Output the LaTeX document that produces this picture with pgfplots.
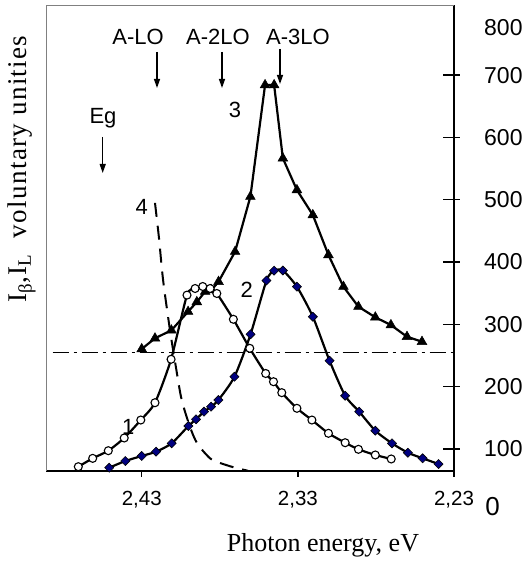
\documentclass[border=0pt]{standalone}
\usepackage{pgfplots}
\pgfplotsset{compat=1.18}
\usepackage{fontspec}
\setmainfont{Liberation Sans}
\newfontfamily\seriffont{Liberation Serif}
\newfontfamily\seriflabel[LetterSpace=5]{Liberation Serif}
\usetikzlibrary{arrows.meta}
\definecolor{navy}{RGB}{0,0,128}

\begin{document}
\begin{tikzpicture}
\useasboundingbox (-46bp,-91bp) rectangle (483bp,471bp);
\begin{axis}[
  name=ax,
  at={(0,0)}, anchor=south west,
  scale only axis, width=408bp, height=466bp,
  x dir=reverse,
  xmin=2.23, xmax=2.4913,
  ymin=64.7, ymax=812.6,
  axis x line*=bottom, axis y line*=right,
  axis line style={line width=1.6bp},
  xtick={2.43,2.33,2.23}, xticklabels={{2,43},{2,33},{2,23}},
  xtick style={draw=none},
  ytick style={draw=none},
  major tick length=0pt,
  xticklabel style={anchor=center, yshift=-29bp, font=\fontsize{20.5bp}{20.5bp}\selectfont},
  ytick={100,200,...,700},
  yticklabel style={anchor=west, inner sep=0pt, xshift=30bp, font=\fontsize{23bp}{23bp}\selectfont},
  /pgf/number format/assume math mode=true,
  clip=false,
]
% curve 4 (dashed)
\addplot[black, line width=2bp, dash pattern=on 14bp off 9bp, smooth] coordinates {
(2.4215,495)(2.4190,440)(2.4163,371)(2.4119,291)(2.4080,230)(2.4044,179)
(2.3990,135)(2.3947,110)(2.3890,92)(2.3843,82)(2.3730,72)(2.3619,65)
};
% horizontal dash-dot
\addplot[black, line width=1.3bp, dash pattern=on 16bp off 5bp on 3bp off 5bp] coordinates {
(2.4870,255)(2.2274,255)
};
% curve 3
\addplot[black, line width=2.2bp, mark=triangle*, mark size=5.6bp, mark options={solid, fill=black, line width=0.5bp}] coordinates {
(2.4300,260.5)(2.4215,277.7)(2.4110,290.5)(2.4003,320.4)(2.3947,336)(2.3894,352.5)
(2.3853,355.2)(2.3808,368.5)(2.3702,416.7)(2.3604,505)(2.3510,684.2)(2.3452,684.2)
(2.3396,566.6)(2.3306,515.7)(2.3204,475.6)(2.3104,411.4)(2.3008,360.5)(2.2912,328.4)
(2.2804,311.4)(2.2704,299)(2.2601,280.2)(2.2505,272.2)
};
% curve 1
\addplot[black, line width=2.2bp, smooth, tension=0.4, mark=*, mark size=4bp, mark options={solid, fill=white, line width=1.1bp}] coordinates {
(2.4706,71.6)(2.4614,85)(2.4514,97.3)(2.4412,117.7)(2.4306,146.5)(2.4215,174.3)
(2.4112,244)(2.4010,347)(2.3958,357.6)(2.3909,360.8)(2.3862,357.6)(2.3819,349.6)
(2.3713,308.2)(2.3608,261.6)(2.3506,221.2)(2.3456,208)(2.3403,190.4)(2.3306,165.3)
(2.3210,146.5)(2.3104,125.2)(2.2997,110.1)(2.2912,99.5)(2.2804,90.4)(2.2702,84)
};
% curve 2
\addplot[black, line width=2.2bp, smooth, tension=0.4, mark=square*, mark size=3.2bp, mark options={solid, rotate=45, fill=navy, draw=black, line width=0.6bp}] coordinates {
(2.4508,70)(2.4405,80.7)(2.4300,88.8)(2.4208,95.7)(2.4108,109.1)(2.4001,136.9)
(2.3952,147.7)(2.3901,159.9)(2.3856,167.9)(2.3809,178.6)(2.3706,216)(2.3603,284.1)
(2.3501,370.4)(2.3452,386.2)(2.3396,386.5)(2.3306,360.5)(2.3204,312.3)(2.3097,241.7)
(2.2997,185.5)(2.2907,159.9)(2.2804,129.4)(2.2697,109.1)(2.2595,94)(2.2501,85.1)(2.2399,75.9)
};
\end{axis}
% ticks
\begin{scope}[line width=1.4bp]
\foreach \xp in {95.7,251.8,408}
  \draw (\xp bp,0bp) -- (\xp bp,-6bp);
\foreach \yp in {22.0,84.3,146.6,208.9,271.2,333.5,395.8}
  \draw (397bp,\yp bp) -- (414bp,\yp bp);
\end{scope}
% thin gray top and left borders
\draw[gray, line width=0.8bp] (0bp,0bp) -- (0bp,466bp) -- (408bp,466bp);
% extra y labels
\node[anchor=west, inner sep=0pt, font=\fontsize{23bp}{23bp}\selectfont] at (438bp,443bp) {800};
\node[font=\fontsize{26bp}{26bp}\selectfont] at (446.5bp,-35.7bp) {0};
% axis titles
\node[font=\seriffont\fontsize{26bp}{26bp}\selectfont] at (277bp,-74bp) {Photon energy, eV};
\node[rotate=90, font=\seriflabel\fontsize{27bp}{27bp}\selectfont] at (-24bp,302bp) {I\textsubscript{β},I\textsubscript{L}\ \ voluntary unities};
% annotations
\begin{scope}[font=\fontsize{22bp}{22bp}\selectfont]
\node at (92bp,434bp) {A-LO};
\node at (172bp,434bp) {A-2LO};
\node at (252bp,434bp) {A-3LO};
\node at (57bp,353bp) {Eg};
\node at (189bp,361bp) {3};
\node at (95.7bp,264bp) {4};
\node at (200.7bp,181bp) {2};
\node at (82.3bp,44.3bp) {1};
\end{scope}
\begin{scope}[line width=1.3bp, -{Triangle[length=9bp,width=6bp]}]
\draw (111bp,419bp) -- (111bp,383bp);
\draw (176bp,419bp) -- (176bp,383bp);
\draw (234bp,422bp) -- (234bp,387bp);
\draw (56.7bp,334bp) -- (56.7bp,298bp);
\end{scope}
\end{tikzpicture}
\end{document}
